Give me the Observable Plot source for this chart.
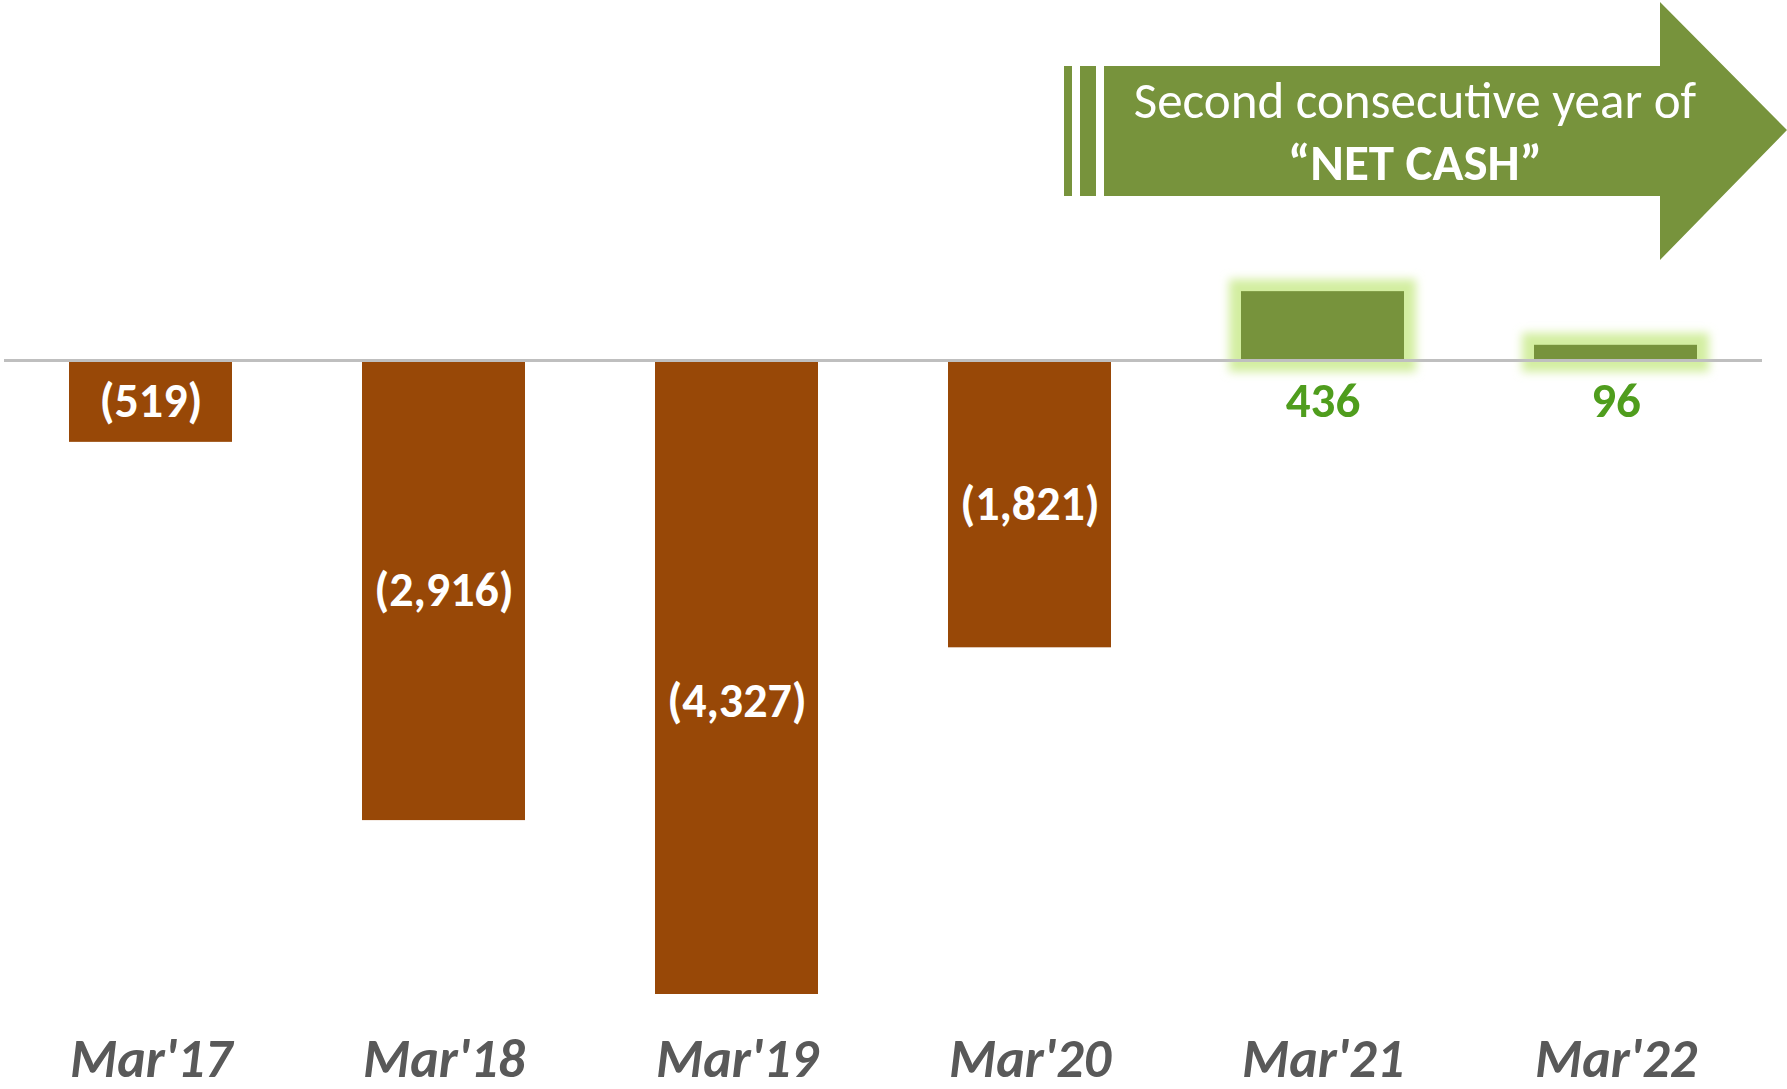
<!DOCTYPE html>
<html>
<head>
<meta charset="utf-8">
<script src="https://cdn.jsdelivr.net/npm/d3@7"></script>
<script src="https://cdn.jsdelivr.net/npm/@observablehq/plot@0.6"></script>
<style>
  html, body { margin: 0; padding: 0; background: #ffffff; }
  #chart { position: relative; width: 1787px; height: 1089px; }
</style>
</head>
<body>
<div id="chart"></div>
<script>
// ---- data ----
const categories = ["Mar'17", "Mar'18", "Mar'19", "Mar'20", "Mar'21", "Mar'22"];
const values = [-519, -2916, -4327, -1821, 436, 96];
const valueLabels = ["(519)", "(2,916)", "(4,327)", "(1,821)", "436", "96"];
const calloutLines = ["Second consecutive year of", "“NET CASH”"];

const rows = categories.map((c, i) => ({cat: c, v: values[i], label: valueLabels[i]}));
const neg = rows.filter(d => d.v < 0);
const pos = rows.filter(d => d.v >= 0);

const FONT = "Calibri, Carlito, Lato, 'Noto Sans', sans-serif";
const BROWN = "#984807";
const GREEN = "#77933c";
const GLOW = "#d3eea0";

const plot = Plot.plot({
  width: 1787,
  height: 1089,
  marginTop: 0,
  marginBottom: 95,
  marginLeft: 4,
  marginRight: 25,
  style: {fontFamily: FONT, background: "transparent", overflow: "visible"},
  x: {domain: categories, paddingInner: 0.444, paddingOuter: 0.222, axis: null},
  y: {domain: [-4018, 2281], axis: null, clamp: true},
  marks: [
    Plot.barY(pos, {x: "cat", y: "v", fill: GLOW}),
    Plot.barY(rows, {x: "cat", y: "v", fill: d => d.v < 0 ? BROWN : GREEN}),
    Plot.ruleY([0], {stroke: "#bfbfbf", strokeWidth: 3}),
    Plot.text(neg, {x: "cat", y: d => d.v / 2, text: "label", fill: "white",
      fontSize: 48, fontWeight: "bold", lineAnchor: "middle"}),
    Plot.text(pos, {x: "cat", y: 0, text: "label", fill: "#4f9d1d",
      fontSize: 49, fontWeight: "bold", lineAnchor: "middle", dy: 41}),
    Plot.text(rows, {x: "cat", frameAnchor: "bottom", text: "cat", fill: "#595959",
      fontSize: 54, fontWeight: "bold", fontStyle: "italic", lineAnchor: "middle", dy: 65})
  ]
});

document.getElementById("chart").appendChild(plot);

// glow filter for the positive bars
const svg = d3.select(plot);
const defs = svg.append("defs");
const f = defs.append("filter").attr("id", "barglow")
  .attr("filterUnits", "userSpaceOnUse")
  .attr("x", 0).attr("y", 0).attr("width", 1787).attr("height", 1089);
f.append("feMorphology").attr("operator", "dilate").attr("radius", 12);
f.append("feGaussianBlur").attr("stdDeviation", 5);
svg.selectAll("g").filter(function() {
  return (this.getAttribute("fill") || "").toLowerCase() === GLOW;
}).attr("filter", "url(#barglow)");
svg.selectAll("rect").filter(function() {
  return (this.getAttribute("fill") || "").toLowerCase() === GLOW;
}).attr("filter", "url(#barglow)");

// callout arrow (annotation)
const ann = svg.append("g").attr("aria-label", "callout");
ann.append("rect").attr("x", 1064).attr("y", 66).attr("width", 8).attr("height", 130).attr("fill", GREEN);
ann.append("rect").attr("x", 1080).attr("y", 66).attr("width", 16).attr("height", 130).attr("fill", GREEN);
ann.append("polygon")
  .attr("points", [[1104,66],[1660,66],[1660,2],[1787,130],[1660,260],[1660,196],[1104,196]].map(p => p.join(",")).join(" "))
  .attr("fill", GREEN);
ann.append("text").attr("x", 1415).attr("y", 118).attr("text-anchor", "middle")
  .attr("fill", "white").attr("font-size", 51).attr("font-family", FONT)
  .text(calloutLines[0]);
ann.append("text").attr("x", 1415).attr("y", 180).attr("text-anchor", "middle")
  .attr("fill", "white").attr("font-size", 51).attr("font-weight", "bold").attr("font-family", FONT)
  .text(calloutLines[1]);
</script>
</body>
</html>
